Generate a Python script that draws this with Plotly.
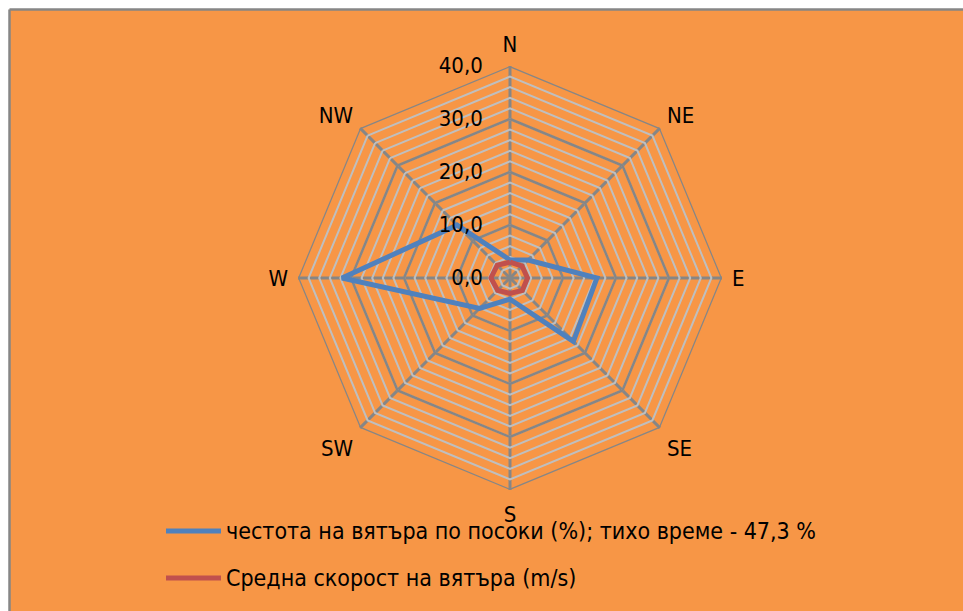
import plotly.graph_objects as go

# Wind directions and values
directions = ["N", "NE", "E", "SE", "S", "SW", "W", "NW"]
frequency = [3.4, 4.8, 16.4, 16.9, 4.0, 8.1, 31.7, 14.1]   # % of time per direction
mean_speed = [3.0, 3.2, 3.3, 3.3, 2.9, 3.3, 3.6, 3.4]      # m/s

series_names = [
    "честота на вятъра по посоки (%); тихо време - 47,3 %",
    "Средна скорост на вятъра (m/s)",
]
series_colors = ["#4F81BD", "#C0504D"]

# Radial grid: light lines every 2 units, darker lines every 10
grid_levels = list(range(0, 41, 2))
major_levels = [10, 20, 30, 40]

FONT = "DejaVu Sans Condensed, Liberation Sans Narrow, sans-serif"
ORANGE = "#F79646"
GRID_DARK = "#868686"

W, H = 963, 611
cx, cy, R = 510, 278, 212

fig = go.Figure()

# darker major rings
for lvl in major_levels:
    fig.add_trace(go.Scatterpolar(
        r=[lvl] * (len(directions) + 1),
        theta=directions + directions[:1],
        mode="lines",
        line=dict(color=GRID_DARK, width=2.5),
        hoverinfo="skip",
        showlegend=False,
    ))

for name, vals, color in zip(series_names, [frequency, mean_speed], series_colors):
    fig.add_trace(go.Scatterpolar(
        r=vals + vals[:1],
        theta=directions + directions[:1],
        mode="lines",
        name=name,
        line=dict(color=color, width=5),
        showlegend=False,
    ))

tick_text = [("%.1f" % v).replace(".", ",") if v % 10 == 0 else "" for v in grid_levels]

# frame: white strip on the left and top, grey edge along the chart area
shapes = [
    dict(type="rect", xref="paper", yref="paper",
         x0=-0.1, x1=9.5 / W, y0=-0.1, y1=1.1,
         fillcolor="white", line=dict(width=0), layer="below"),
    dict(type="rect", xref="paper", yref="paper",
         x0=-0.1, x1=1.1, y0=1 - 9.5 / H, y1=1.1,
         fillcolor="white", line=dict(width=0), layer="below"),
    dict(type="line", xref="paper", yref="paper",
         x0=9.5 / W, x1=9.5 / W, y0=-0.2, y1=1 - 9.5 / H,
         line=dict(color=GRID_DARK, width=2.5), layer="below"),
    dict(type="line", xref="paper", yref="paper",
         x0=9.5 / W, x1=1.2, y0=1 - 9.5 / H, y1=1 - 9.5 / H,
         line=dict(color=GRID_DARK, width=2.5), layer="below"),
]

# legend: line sample + label per series
annotations = []
legend_rows = [531, 578]
for name, color, row in zip(series_names, series_colors, legend_rows):
    shapes.append(dict(
        type="line", xref="paper", yref="paper",
        x0=166 / W, x1=221 / W, y0=1 - row / H, y1=1 - row / H,
        line=dict(color=color, width=5),
    ))
    annotations.append(dict(
        text=name, xref="paper", yref="paper",
        x=224 / W, y=1 - row / H, xanchor="left", yanchor="middle",
        showarrow=False, font=dict(size=23, color="#000000"),
    ))

fig.update_layout(
    width=W, height=H,
    margin=dict(l=0, r=0, t=0, b=0),
    paper_bgcolor=ORANGE,
    plot_bgcolor=ORANGE,
    font=dict(family=FONT, size=22, color="#000000"),
    separators=",.",
    shapes=shapes,
    annotations=annotations,
    showlegend=False,
    polar=dict(
        domain=dict(x=[(cx - R) / W, (cx + R) / W], y=[1 - (cy + R) / H, 1 - (cy - R) / H]),
        bgcolor="rgba(0,0,0,0)",
        gridshape="linear",
        angularaxis=dict(
            rotation=90, direction="clockwise",
            showline=False,
            gridcolor=GRID_DARK, gridwidth=2.5,
            ticks="outside", ticklen=5, tickcolor="rgba(0,0,0,0)",
            tickfont=dict(size=22),
        ),
        radialaxis=dict(
            range=[0, 40],
            angle=90, side="counterclockwise",
            tickvals=grid_levels, ticktext=tick_text,
            tickangle=90,
            showline=False,
            gridcolor="#BFBFBF", gridwidth=2,
            ticks="outside", ticklen=19, tickcolor="rgba(0,0,0,0)",
            tickfont=dict(size=22),
        ),
    ),
)

fig.write_html("out.html")
